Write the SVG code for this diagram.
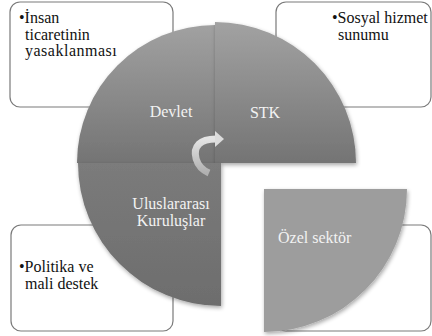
<svg xmlns="http://www.w3.org/2000/svg" width="432" height="336" viewBox="0 0 432 336">
<defs>
<linearGradient id="gTop" gradientUnits="userSpaceOnUse" x1="0" y1="22" x2="0" y2="163">
<stop offset="0" stop-color="#a2a2a2"/><stop offset="1" stop-color="#747474"/>
</linearGradient>
<linearGradient id="gLow" gradientUnits="userSpaceOnUse" x1="0" y1="163" x2="0" y2="306">
<stop offset="0" stop-color="#7b7b7b"/><stop offset="1" stop-color="#6d6d6d"/>
</linearGradient>
<linearGradient id="gArrow" x1="0" y1="0" x2="0" y2="1">
<stop offset="0" stop-color="#e4e4e4"/><stop offset="1" stop-color="#b0b0b0"/>
</linearGradient>
<filter id="sh" x="-10%" y="-10%" width="130%" height="130%">
<feGaussianBlur in="SourceAlpha" stdDeviation="2"/>
<feOffset dx="1" dy="2" result="b"/>
<feComponentTransfer><feFuncA type="linear" slope="0.35"/></feComponentTransfer>
<feMerge><feMergeNode/><feMergeNode in="SourceGraphic"/></feMerge>
</filter>
</defs>
<style>
.box{fill:#ffffff;stroke:#7a7a7a;stroke-width:1.2}
.bt{font-family:"Liberation Serif","Times New Roman",serif;font-size:16px;fill:#111}
.qt{font-family:"Liberation Serif","Times New Roman",serif;font-size:16px;fill:#f2f2f2}
</style>
<g id="box-devlet"><rect class="box" x="10" y="2" width="163" height="105" rx="10"/>
<text class="bt" x="19" y="23">•İnsan</text><text class="bt" x="25" y="39.5">ticaretinin</text><text class="bt" x="25" y="56" letter-spacing="0.5">yasaklanması</text></g>
<g id="box-stk"><rect class="box" x="276" y="2" width="155" height="105" rx="10"/>
<text class="bt" x="332" y="23">•Sosyal hizmet</text><text class="bt" x="338" y="39.5">sunumu</text></g>
<g id="box-uk"><rect class="box" x="11" y="225" width="162" height="106" rx="10"/>
<text class="bt" x="19" y="272">•Politika ve</text><text class="bt" x="25" y="288.5">mali destek</text></g>
<g id="box-ozel"><rect class="box" x="276" y="225" width="155" height="106" rx="10"/></g>
<g id="q-devlet"><path d="M215 163 L77 163 A138 138 0 0 1 215 25 Z" fill="url(#gTop)" filter="url(#sh)"/>
<text class="qt" x="171" y="117" text-anchor="middle">Devlet</text></g>
<g id="q-stk"><path d="M215 163 L215 22 A141 141 0 0 1 356 163 Z" fill="url(#gTop)" filter="url(#sh)"/>
<text class="qt" x="265" y="118" text-anchor="middle">STK</text></g>
<g id="q-uk"><path d="M221 163 L221 306 A143 143 0 0 1 78 163 Z" fill="url(#gLow)" filter="url(#sh)"/>
<text class="qt" x="171" y="209" text-anchor="middle">Uluslararası</text><text class="qt" x="171" y="226" text-anchor="middle">Kuruluşlar</text></g>
<g id="q-ozel"><path d="M264 189 L407 189 A143 143 0 0 1 264 332 Z" fill="#9d9d9d" filter="url(#sh)"/>
<text class="qt" x="278" y="243">Özel sektör</text></g>
<g id="connectors">
<path d="M209 173 C195 167 192 151 199 144 C203 140 209 139 216 139" fill="none" stroke="url(#gArrow)" stroke-width="7"/>
<polygon points="215,131 224,139 215,147" fill="#dcdcdc"/>
</g>
</svg>
